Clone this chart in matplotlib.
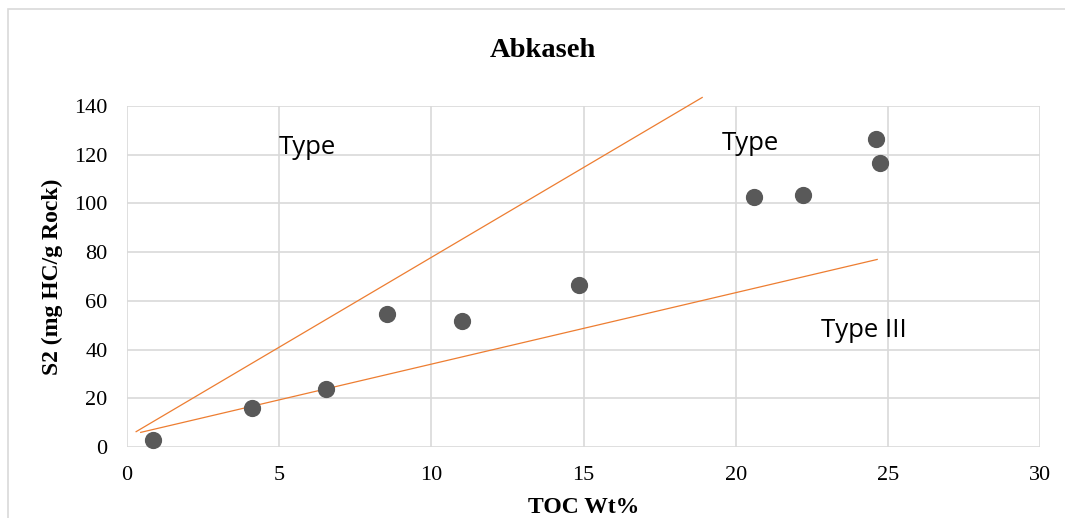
import matplotlib
matplotlib.use("Agg")
import matplotlib.pyplot as plt
from matplotlib.patches import Rectangle

# sample points
toc = [0.85, 4.1, 6.55, 8.55, 11.0, 14.85, 20.6, 22.2, 24.6, 24.75]
s2 = [2.8, 16.0, 23.8, 54.5, 51.7, 66.5, 102.5, 103.5, 126.3, 116.6]

# kerogen type boundary lines (start / end points)
line1_x = [0.3, 18.9]
line1_y = [6.3, 143.5]
line2_x = [0.45, 24.65]
line2_y = [6.0, 77.0]

# zone labels
labels = ["Type", "Type", "Type III"]
label_x = [5.0, 19.55, 22.8]
label_y = [123.0, 124.8, 48.0]

serif = "Liberation Serif"
sans = "Open Sans"

fig = plt.figure(figsize=(10.65, 5.18), dpi=100)
ax = fig.add_axes([127 / 1065, 1 - 447 / 518, 913 / 1065, 341 / 518])

# outer chart frame
fig.patches.append(Rectangle((8 / 1065, -0.1), 1.2, 1 - 9 / 518 + 0.1,
                             transform=fig.transFigure, fill=False,
                             edgecolor="#d9d9d9", linewidth=1.2))

ax.plot(line1_x, line1_y, color="#ed7d31", linewidth=0.9, clip_on=False, zorder=2)
ax.plot(line2_x, line2_y, color="#ed7d31", linewidth=0.9, clip_on=False, zorder=2)
ax.scatter(toc, s2, s=130, color="#595959", zorder=3, clip_on=False)

for t, x, y in zip(labels, label_x, label_y):
    ax.text(x, y, t, fontsize=18.5, family=sans, va="center", ha="left", zorder=4)

ax.set_xlim(0, 30)
ax.set_ylim(0, 140)
ax.set_xticks(range(0, 31, 5))
ax.set_yticks(range(0, 141, 20))
ax.grid(True, color="#d9d9d9", linewidth=1.2)
ax.set_axisbelow(True)
for sp in ax.spines.values():
    sp.set_visible(False)
ax.tick_params(length=0, labelsize=16, pad=14)
for lbl in ax.get_xticklabels() + ax.get_yticklabels():
    lbl.set_family(serif)

ax.set_title("Abkaseh", family=serif, fontsize=20.5, fontweight="bold",
             x=(543 - 127) / 913, pad=35.5)
ax.set_xlabel("TOC Wt%", family=serif, fontsize=17, fontweight="bold", labelpad=8)
ax.set_ylabel("S2 (mg HC/g Rock)", family=serif, fontsize=17, fontweight="bold", labelpad=8)

fig.savefig("out.png", dpi=100)
